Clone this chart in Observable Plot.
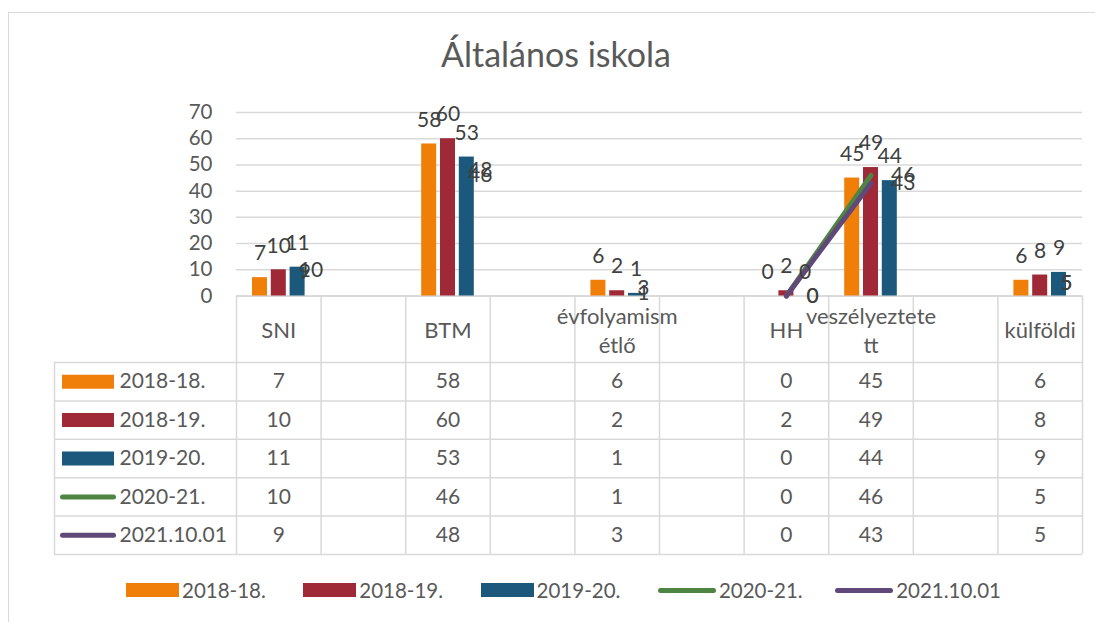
<!DOCTYPE html>
<html>
<head>
<meta charset="utf-8">
<script src="https://cdn.jsdelivr.net/npm/d3@7"></script>
<script src="https://cdn.jsdelivr.net/npm/@observablehq/plot@0.6"></script>
<style>
  body { margin: 0; background: #fff; }
  #wrap { position: relative; width: 1095px; height: 622px; overflow: hidden; font-family: Lato, "Open Sans", sans-serif; color: #595959; }
  #border { position: absolute; left: 8px; top: 12px; width: 1300px; height: 800px; border: 1.5px solid #d9d9d9; box-sizing: border-box; }
  #chart { position: absolute; left: 0; top: 0; }
  #title { position: absolute; left: 0; top: 37px; width: 1112px; text-align: center; font-size: 34px; line-height: 34px; color: #595959; }
  #legend { position: absolute; left: 126px; top: 578px; display: flex; font-size: 20.5px; line-height: 24px; }
  .item { width: 177.3px; display: flex; align-items: center; }
  .sw { width: 53px; height: 14px; margin-right: 3px; }
  .ln { width: 58px; height: 5px; border-radius: 3px; margin-right: 3px; }
</style>
</head>
<body>
<div id="wrap">
  <div id="border"></div>
  <div id="chart"></div>
  <div id="title"></div>
  <div id="legend"></div>
</div>
<script>
// ---- data ----
const chartTitle = "Általános iskola";
const categories = ["SNI", "", "BTM", "", "évfolyamismétlő", "", "HH", "veszélyeztetett", "", "külföldi"];
const headerLabels = ["SNI", "", "BTM", "", "évfolyamism\nétlő", "", "HH", "veszélyeztete\ntt", "", "külföldi"];
const seriesNames = ["2018-18.", "2018-19.", "2019-20.", "2020-21.", "2021.10.01"];
const seriesKinds = ["bar", "bar", "bar", "line", "line"];
const seriesColors = ["#F07F09", "#9F2936", "#1B587C", "#4E8542", "#604878"];
const values2018_18 = [7, null, 58, null, 6, null, 0, 45, null, 6];
const values2018_19 = [10, null, 60, null, 2, null, 2, 49, null, 8];
const values2019_20 = [11, null, 53, null, 1, null, 0, 44, null, 9];
const values2020_21 = [10, null, 46, null, 1, null, 0, 46, null, 5];
const values2021_10_01 = [9, null, 48, null, 3, null, 0, 43, null, 5];
const yTicks = [0, 10, 20, 30, 40, 50, 60, 70];

const seriesValues = [values2018_18, values2018_19, values2019_20, values2020_21, values2021_10_01];

// ---- layout ----
const W = 1095, H = 622, mL = 236, mR = 13, mT = 112, mB = 326.5;
const plotH = H - mT - mB;
const bw = (W - mL - mR) / categories.length;
const idx = d3.range(categories.length);
const headerH = 66.5, rowH = 38.4, tableBottom = headerH + rowH * 5;
const leftColW = 182;
const barW = 15, barPitch = 18.8;
const labelColor = "#404040";
const textColor = "#595959";
const gridColor = "#d9d9d9";
const has = v => v != null;

const marks = [];
marks.push(Plot.gridY({ticks: yTicks, stroke: gridColor, strokeOpacity: 1, strokeWidth: 1.5}));
marks.push(Plot.axisY({ticks: yTicks, tickSize: 0, tickPadding: 24, fontSize: 20.5}));

// table grid
marks.push(Plot.ruleY([0], {stroke: gridColor, strokeWidth: 1.5}));
for (let k = 0; k <= 5; k++) {
  marks.push(Plot.ruleY([0], {stroke: gridColor, strokeWidth: 1.5, dy: headerH + rowH * k, insetLeft: -leftColW}));
}
marks.push(Plot.ruleX(idx, {x: i => i, dx: -bw / 2, stroke: gridColor, strokeWidth: 1.5, insetTop: plotH, insetBottom: -tableBottom}));
marks.push(Plot.ruleX([idx[idx.length - 1]], {x: i => i, dx: bw / 2, stroke: gridColor, strokeWidth: 1.5, insetTop: plotH, insetBottom: -tableBottom}));
marks.push(Plot.ruleX([idx[0]], {x: i => i, dx: -bw / 2 - leftColW, stroke: gridColor, strokeWidth: 1.5, insetTop: plotH + headerH, insetBottom: -tableBottom}));

// bars
let b = 0;
seriesValues.forEach((vals, s) => {
  if (seriesKinds[s] !== "bar") return;
  const off = (b - 1) * barPitch;
  const il = bw / 2 + off - barW / 2;
  const defined = idx.filter(i => has(vals[i]));
  marks.push(Plot.barY(defined, {x: i => i, y: i => vals[i], fill: seriesColors[s], insetLeft: il, insetRight: bw - il - barW}));
  b++;
});
// lines (only segments between adjacent defined points are drawn)
seriesValues.forEach((vals, s) => {
  if (seriesKinds[s] !== "line") return;
  const connected = i => has(vals[i]) && (has(vals[i - 1]) || has(vals[i + 1]));
  marks.push(Plot.lineY(idx, {x: i => i, y: i => connected(i) ? vals[i] : null, stroke: seriesColors[s], strokeWidth: 5, strokeLinecap: "round"}));
});
// bar labels
b = 0;
seriesValues.forEach((vals, s) => {
  if (seriesKinds[s] !== "bar") return;
  const off = (b - 1) * barPitch;
  const defined = idx.filter(i => has(vals[i]));
  marks.push(Plot.text(defined, {x: i => i, y: i => vals[i], text: i => String(vals[i]), dx: off, dy: -24, fill: labelColor, fontSize: 21}));
  b++;
});
// line labels
seriesValues.forEach((vals, s) => {
  if (seriesKinds[s] !== "line") return;
  const defined = idx.filter(i => has(vals[i]));
  marks.push(Plot.text(defined, {x: i => i, y: i => vals[i], text: i => String(vals[i]), dx: 20, textAnchor: "start", fill: labelColor, fontSize: 21}));
});

// table header
marks.push(Plot.text(idx, {x: i => i, text: i => headerLabels[i], frameAnchor: "bottom", lineAnchor: "middle", dy: headerH / 2, lineHeight: 1.3, fill: textColor, fontSize: 22}));
// table rows
seriesValues.forEach((vals, r) => {
  const cy = headerH + rowH * (r + 0.5);
  const defined = idx.filter(i => has(vals[i]));
  marks.push(Plot.text(defined, {x: i => i, text: i => String(vals[i]), frameAnchor: "bottom", lineAnchor: "middle", dy: cy, fill: textColor, fontSize: 21}));
  marks.push(Plot.text([seriesNames[r]], {text: d => d, frameAnchor: "bottom-left", lineAnchor: "middle", dx: -leftColW + 65, dy: cy, textAnchor: "start", fill: textColor, fontSize: 21}));
  if (seriesKinds[r] === "bar") {
    marks.push(Plot.ruleY([0], {stroke: seriesColors[r], strokeWidth: 14, dy: cy, insetLeft: -leftColW + 8, insetRight: W - mL - mR - (-leftColW + 8 + 52)}));
  } else {
    marks.push(Plot.ruleY([0], {stroke: seriesColors[r], strokeWidth: 5, strokeLinecap: "round", dy: cy, insetLeft: -leftColW + 8.5, insetRight: W - mL - mR - (-leftColW + 8.5 + 51)}));
  }
});

const chart = Plot.plot({
  width: W, height: H,
  marginLeft: mL, marginRight: mR, marginTop: mT, marginBottom: mB,
  style: {fontFamily: "Lato, 'Open Sans', sans-serif", fontSize: "20px", color: textColor, background: "transparent", overflow: "visible"},
  x: {type: "band", domain: idx, padding: 0, round: false, axis: null},
  y: {domain: [0, 70], axis: null},
  marks
});
document.getElementById("chart").appendChild(chart);
document.getElementById("title").textContent = chartTitle;

const legend = document.getElementById("legend");
seriesNames.forEach((name, s) => {
  const item = document.createElement("div");
  item.className = "item";
  const sw = document.createElement("div");
  sw.className = seriesKinds[s] === "bar" ? "sw" : "ln";
  sw.style.background = seriesColors[s];
  const t = document.createElement("span");
  t.textContent = name;
  item.appendChild(sw); item.appendChild(t);
  legend.appendChild(item);
});
</script>
</body>
</html>
